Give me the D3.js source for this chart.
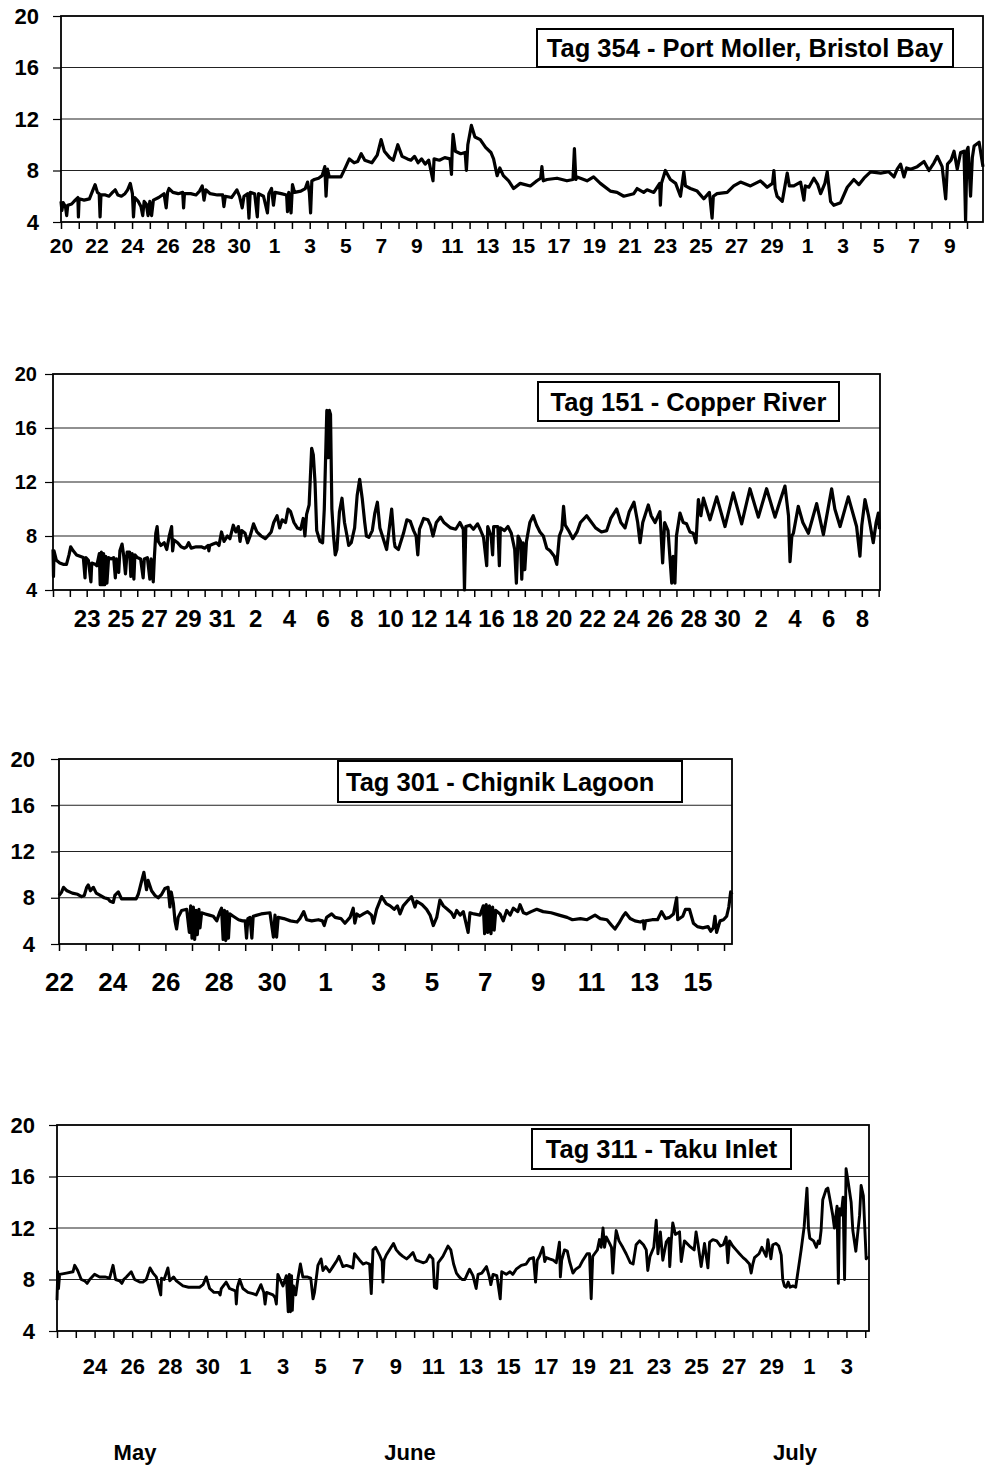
<!DOCTYPE html>
<html>
<head>
<meta charset="utf-8">
<script src="https://cdn.jsdelivr.net/npm/d3@7"></script>
<style>
  body { margin: 0; background: #fff; }
  svg text { font-family: "Liberation Sans", Arial, sans-serif; font-weight: bold; fill: #000; }
  .narrow { font-family: "Liberation Sans Narrow", "Liberation Sans", Arial, sans-serif; }
</style>
</head>
<body>
<svg id="chart" width="985" height="1468"></svg>
<script>
// values: [days since first tick, temperature]
const yTicks = [4, 8, 12, 16, 20];
const months = ["May", "June", "July"];
const titles = ["Tag 354 - Port Moller, Bristol Bay", "Tag 151 - Copper River",
                "Tag 301 - Chignik Lagoon", "Tag 311 - Taku Inlet"];
const startDates = ["2003-05-20", "2003-05-21", "2003-05-22", "2003-05-22"];
const endDays = [51.9, 49.08, 25.3, 43.2];
const firstLabel = [0, 2, 0, 2];

const tag354 = [[0.0,5.6],[0.05,4.9],[0.12,5.5],[0.25,5.2],[0.32,4.5],[0.38,5.3],[0.6,5.4],[0.8,5.7],[0.95,5.9],[0.98,4.4],[1.02,5.8],[1.3,5.7],[1.6,5.8],[1.8,6.5],[1.92,6.9],[2.05,6.3],[2.15,6.2],[2.2,4.4],[2.25,6.1],[2.5,6.1],[2.7,6.0],[2.9,6.3],[3.05,6.5],[3.2,6.1],[3.4,6.0],[3.6,6.2],[3.75,6.5],[3.9,7.0],[4.02,6.2],[4.08,4.4],[4.15,5.9],[4.35,5.6],[4.5,5.2],[4.6,4.5],[4.68,5.6],[4.8,5.4],[4.9,4.5],[5.0,5.6],[5.1,4.5],[5.2,5.7],[5.5,5.9],[5.8,6.2],[5.92,5.1],[6.0,6.3],[6.08,6.6],[6.3,6.3],[6.6,6.2],[6.85,6.3],[6.9,5.1],[6.95,6.2],[7.3,6.2],[7.6,6.1],[7.8,6.4],[7.95,6.8],[8.05,5.7],[8.15,6.5],[8.4,6.2],[8.8,6.1],[9.1,6.1],[9.17,5.2],[9.25,6.0],[9.6,5.9],[9.9,6.5],[10.05,6.0],[10.2,5.1],[10.3,6.0],[10.5,6.2],[10.58,4.3],[10.65,6.3],[10.9,6.2],[11.05,4.4],[11.12,6.2],[11.4,6.0],[11.62,4.7],[11.7,6.2],[11.85,6.6],[11.96,5.3],[12.05,6.3],[12.4,6.2],[12.7,6.1],[12.75,4.8],[12.82,6.3],[12.95,4.7],[13.03,6.9],[13.15,6.3],[13.5,6.4],[13.75,6.6],[13.88,7.1],[13.98,6.3],[14.05,4.7],[14.12,7.2],[14.26,7.3],[14.5,7.4],[14.7,7.6],[14.85,8.3],[14.92,6.0],[15.0,8.1],[15.1,7.5],[15.4,7.5],[15.76,7.5],[16.0,8.2],[16.23,8.9],[16.5,8.6],[16.7,8.7],[16.9,9.3],[17.1,8.8],[17.5,8.6],[17.8,9.2],[18.02,10.4],[18.2,9.5],[18.5,9.0],[18.7,8.8],[18.96,10.0],[19.2,9.1],[19.5,8.9],[19.7,8.8],[19.9,9.1],[20.1,8.6],[20.3,8.9],[20.5,8.5],[20.7,8.8],[20.94,7.2],[21.0,8.9],[21.3,8.8],[21.6,9.0],[21.9,8.9],[21.98,7.7],[22.02,9.5],[22.07,10.8],[22.2,9.5],[22.5,9.3],[22.75,9.4],[22.82,8.0],[22.9,10.0],[23.1,11.5],[23.3,10.6],[23.6,10.4],[23.9,9.8],[24.2,9.4],[24.35,8.9],[24.55,7.6],[24.7,8.2],[24.9,7.6],[25.2,7.2],[25.48,6.6],[25.85,7.0],[26.42,6.8],[26.79,7.2],[27.0,7.4],[27.07,8.3],[27.15,7.2],[27.36,7.3],[27.92,7.4],[28.48,7.2],[28.82,7.3],[28.9,9.7],[28.98,7.3],[29.05,7.5],[29.61,7.2],[29.98,7.5],[30.36,7.0],[30.92,6.4],[31.3,6.3],[31.68,6.0],[32.24,6.2],[32.43,6.6],[32.8,6.3],[32.99,6.5],[33.37,6.3],[33.7,7.0],[33.74,5.3],[33.8,7.0],[34.02,8.0],[34.3,7.3],[34.6,7.0],[34.87,6.0],[35.06,7.9],[35.15,6.8],[35.43,6.6],[35.81,6.4],[36.18,5.8],[36.5,6.3],[36.65,4.3],[36.72,6.0],[36.93,6.2],[37.5,6.3],[37.87,6.8],[38.25,7.1],[38.81,6.8],[39.37,7.2],[39.75,6.7],[40.05,7.0],[40.13,8.0],[40.2,6.6],[40.31,6.0],[40.6,5.6],[40.88,7.8],[41.0,6.8],[41.25,6.8],[41.63,7.1],[41.82,5.7],[41.9,6.8],[42.1,6.7],[42.38,7.4],[42.6,6.9],[42.76,6.2],[43.0,7.0],[43.13,7.9],[43.32,5.6],[43.5,5.3],[43.88,5.5],[44.26,6.7],[44.63,7.3],[44.91,6.9],[45.2,7.4],[45.57,7.9],[46.14,7.8],[46.6,7.9],[46.89,7.5],[47.07,8.1],[47.26,8.5],[47.45,7.5],[47.6,8.2],[47.83,8.1],[48.2,8.3],[48.58,8.7],[48.86,8.0],[49.14,8.6],[49.33,9.1],[49.6,8.3],[49.8,5.8],[49.9,8.5],[50.1,8.8],[50.27,9.5],[50.45,8.1],[50.64,9.4],[50.83,9.5],[50.92,4.1],[51.0,9.6],[51.06,9.8],[51.2,6.0],[51.3,9.0],[51.4,9.9],[51.68,10.2],[51.9,8.3]];

const tag151 = [[0.0,7.0],[0.03,5.0],[0.06,6.9],[0.2,6.2],[0.4,6.0],[0.6,5.9],[0.8,5.9],[0.95,6.6],[1.05,7.2],[1.2,6.9],[1.4,6.6],[1.6,6.5],[1.8,6.4],[1.9,4.9],[1.95,6.4],[2.1,6.2],[2.25,4.6],[2.3,6.0],[2.5,5.9],[2.6,5.8],[2.75,6.7],[2.8,4.4],[2.87,6.8],[2.93,4.4],[3.0,6.7],[3.07,4.4],[3.13,6.5],[3.2,4.5],[3.3,6.4],[3.45,6.3],[3.6,6.4],[3.7,4.9],[3.76,6.3],[3.9,5.3],[3.97,6.9],[4.1,7.4],[4.2,6.5],[4.3,5.2],[4.4,6.8],[4.55,6.8],[4.62,5.0],[4.7,6.7],[4.8,4.8],[4.86,6.6],[5.0,6.4],[5.2,6.3],[5.35,4.9],[5.42,6.3],[5.6,6.4],[5.75,4.8],[5.82,6.3],[5.95,4.6],[6.02,6.5],[6.1,8.2],[6.18,8.7],[6.25,7.6],[6.4,7.3],[6.6,7.5],[6.75,7.0],[6.9,8.0],[7.04,8.7],[7.1,6.9],[7.18,7.7],[7.4,7.5],[7.6,7.2],[7.8,7.1],[7.93,7.2],[8.05,7.5],[8.2,7.1],[8.5,7.2],[8.8,7.2],[9.0,7.1],[9.2,7.3],[9.25,6.9],[9.3,7.3],[9.5,7.4],[9.7,7.5],[9.85,7.3],[10.0,8.3],[10.15,7.6],[10.35,8.0],[10.5,7.8],[10.7,8.8],[10.85,8.3],[11.0,8.7],[11.1,7.6],[11.2,8.4],[11.4,8.2],[11.55,7.5],[11.7,8.0],[11.9,8.9],[12.1,8.3],[12.35,8.0],[12.6,7.8],[12.75,8.0],[12.95,8.3],[13.1,9.0],[13.3,9.5],[13.45,8.6],[13.6,9.2],[13.8,9.0],[13.95,10.0],[14.1,9.8],[14.3,9.0],[14.5,8.6],[14.7,8.5],[14.85,9.3],[14.95,8.0],[15.05,9.6],[15.2,10.3],[15.35,14.5],[15.45,14.0],[15.55,12.0],[15.65,8.4],[15.85,7.6],[16.0,7.5],[16.1,10.0],[16.25,17.3],[16.33,13.8],[16.4,17.3],[16.47,17.0],[16.55,10.0],[16.65,8.0],[16.75,6.6],[16.85,7.0],[17.0,9.8],[17.15,10.8],[17.3,9.0],[17.45,8.0],[17.55,7.3],[17.7,7.5],[17.9,8.6],[18.05,11.0],[18.2,12.2],[18.35,10.8],[18.5,9.0],[18.6,8.0],[18.75,7.9],[18.95,8.4],[19.1,9.7],[19.25,10.5],[19.4,8.6],[19.55,8.0],[19.8,7.0],[19.95,8.5],[20.1,10.0],[20.25,7.6],[20.3,7.2],[20.5,7.0],[20.8,8.2],[21.0,9.2],[21.2,9.1],[21.4,8.4],[21.55,8.0],[21.65,6.6],[21.75,8.5],[22.0,9.3],[22.25,9.2],[22.4,8.8],[22.55,8.0],[22.75,9.0],[23.0,9.4],[23.2,9.0],[23.4,8.8],[23.6,8.6],[23.9,8.5],[24.15,9.0],[24.35,8.5],[24.42,4.0],[24.5,8.7],[24.75,8.8],[24.95,8.5],[25.2,8.9],[25.35,8.5],[25.55,7.9],[25.74,5.8],[25.8,8.7],[26.0,8.0],[26.09,6.6],[26.15,8.7],[26.4,8.7],[26.49,5.8],[26.55,8.6],[26.8,8.4],[27.0,8.7],[27.2,8.2],[27.4,7.0],[27.5,4.5],[27.6,8.0],[27.75,7.6],[27.82,4.8],[27.9,7.5],[28.0,5.5],[28.1,7.6],[28.3,9.0],[28.5,9.5],[28.7,8.8],[28.9,8.3],[29.1,8.0],[29.3,7.1],[29.5,6.9],[29.75,6.5],[29.9,5.9],[30.05,8.0],[30.2,8.5],[30.3,10.2],[30.4,8.8],[30.6,8.4],[30.85,7.8],[31.1,8.3],[31.3,9.0],[31.67,9.5],[32.2,8.6],[32.55,8.3],[32.86,8.4],[33.1,9.3],[33.45,10.0],[33.7,9.0],[33.95,8.6],[34.2,9.8],[34.48,10.5],[34.7,9.0],[34.84,7.5],[35.0,9.0],[35.33,10.3],[35.5,9.5],[35.73,9.0],[36.02,9.8],[36.18,6.0],[36.3,9.0],[36.5,8.4],[36.72,4.5],[36.8,6.5],[36.91,4.5],[37.0,8.0],[37.21,9.7],[37.4,9.0],[37.6,8.9],[37.8,8.3],[38.0,8.2],[38.16,7.5],[38.3,10.7],[38.45,9.5],[38.6,10.8],[38.99,9.2],[39.39,10.9],[39.88,8.7],[40.37,11.2],[40.87,8.9],[41.36,11.5],[41.86,9.4],[42.35,11.5],[42.85,9.4],[43.2,10.8],[43.44,11.7],[43.65,9.5],[43.74,6.1],[43.85,8.0],[43.94,8.2],[44.23,10.2],[44.5,9.0],[44.83,8.2],[45.32,10.4],[45.72,8.1],[46.21,11.5],[46.4,10.0],[46.71,8.7],[47.2,10.9],[47.69,8.7],[47.89,6.5],[48.0,8.8],[48.19,10.7],[48.4,9.5],[48.68,7.5],[48.85,9.0],[48.98,9.7],[49.05,8.5]];

const tag301 = [[0.0,8.2],[0.1,8.5],[0.17,8.9],[0.3,8.6],[0.5,8.4],[0.7,8.3],[0.85,8.1],[0.95,8.2],[1.04,8.9],[1.1,9.1],[1.18,8.6],[1.29,8.9],[1.4,8.4],[1.55,8.2],[1.7,8.0],[1.85,7.9],[1.92,7.7],[2.04,7.6],[2.1,8.2],[2.23,8.5],[2.35,7.9],[2.5,7.9],[2.7,7.9],[2.9,7.9],[2.98,8.3],[3.1,9.4],[3.19,10.2],[3.29,8.7],[3.35,9.5],[3.48,8.6],[3.61,8.2],[3.73,8.0],[3.86,8.3],[3.98,8.8],[4.1,8.9],[4.17,7.2],[4.22,8.5],[4.3,7.5],[4.36,6.0],[4.42,5.3],[4.48,6.3],[4.61,6.9],[4.8,7.0],[4.9,5.0],[4.95,7.3],[5.0,4.5],[5.05,7.2],[5.1,4.4],[5.15,6.9],[5.2,4.8],[5.26,7.0],[5.3,5.4],[5.36,6.7],[5.5,6.6],[5.65,6.5],[5.8,6.4],[5.93,6.0],[6.05,6.8],[6.11,7.1],[6.17,4.4],[6.22,6.9],[6.27,4.3],[6.32,6.8],[6.37,4.5],[6.42,6.6],[6.55,6.4],[6.75,6.1],[6.9,6.0],[7.0,6.0],[7.05,4.5],[7.1,6.2],[7.18,6.3],[7.25,4.5],[7.3,6.4],[7.6,6.6],[7.93,6.7],[8.06,4.6],[8.12,6.5],[8.18,4.6],[8.24,6.3],[8.45,6.2],[8.7,6.0],[8.95,5.9],[9.06,6.2],[9.2,6.8],[9.31,6.1],[9.5,6.0],[9.75,6.1],[9.9,6.0],[9.97,5.6],[10.06,6.3],[10.25,6.6],[10.38,6.3],[10.6,6.2],[10.75,5.8],[10.94,6.3],[11.06,7.1],[11.12,5.8],[11.2,6.6],[11.3,6.4],[11.44,6.6],[11.6,6.8],[11.75,6.5],[11.82,5.8],[11.94,7.0],[12.13,8.1],[12.3,7.5],[12.45,7.3],[12.6,7.0],[12.72,7.3],[12.82,6.6],[12.94,7.3],[13.13,7.8],[13.25,8.1],[13.38,7.2],[13.45,7.7],[13.65,7.4],[13.82,7.0],[13.95,6.5],[14.07,5.6],[14.2,6.3],[14.32,7.8],[14.45,7.3],[14.6,7.0],[14.75,6.7],[14.85,6.3],[14.95,6.9],[15.08,6.5],[15.2,6.8],[15.38,5.0],[15.45,6.7],[15.6,6.6],[15.83,6.5],[15.95,7.3],[16.0,4.9],[16.06,7.4],[16.12,5.0],[16.18,7.3],[16.24,4.9],[16.3,7.2],[16.36,5.2],[16.42,6.9],[16.58,6.6],[16.7,6.0],[16.83,6.9],[16.96,6.5],[17.08,7.1],[17.25,6.8],[17.33,7.4],[17.46,6.7],[17.58,6.6],[17.75,6.8],[17.96,7.0],[18.2,6.8],[18.5,6.7],[18.8,6.5],[19.1,6.3],[19.3,6.1],[19.6,6.2],[19.85,6.1],[20.15,6.5],[20.35,6.2],[20.6,6.1],[20.78,5.6],[20.9,5.3],[21.05,5.8],[21.2,6.4],[21.3,6.7],[21.47,6.2],[21.65,6.0],[21.85,5.9],[21.97,6.0],[22.0,5.3],[22.05,6.0],[22.3,6.1],[22.5,6.1],[22.65,6.8],[22.8,6.2],[22.95,6.3],[23.1,6.6],[23.22,8.0],[23.26,6.1],[23.45,6.4],[23.55,7.0],[23.7,7.0],[23.85,5.8],[24.0,5.5],[24.2,5.4],[24.4,5.5],[24.5,5.1],[24.6,5.4],[24.66,6.4],[24.72,5.0],[24.85,6.0],[24.98,6.1],[25.1,6.4],[25.18,7.2],[25.25,8.5],[25.3,8.3]];

const tag311 = [[0.0,6.4],[0.04,8.6],[0.08,7.3],[0.14,8.4],[0.5,8.5],[0.85,8.6],[0.94,9.1],[1.1,8.7],[1.29,8.0],[1.47,7.9],[1.6,7.7],[1.74,8.0],[2.0,8.4],[2.27,8.2],[2.55,8.2],[2.8,8.1],[2.98,9.1],[3.12,8.0],[3.33,7.9],[3.45,7.7],[3.55,8.0],[3.69,8.2],[3.95,8.6],[4.13,8.0],[4.4,7.8],[4.57,7.8],[4.75,8.0],[4.95,8.9],[5.11,8.5],[5.28,8.2],[5.52,6.8],[5.56,8.1],[5.7,8.0],[5.9,8.9],[6.0,7.9],[6.2,8.2],[6.35,7.9],[6.7,7.5],[7.0,7.4],[7.3,7.4],[7.59,7.4],[7.77,7.6],[7.94,8.2],[8.12,7.3],[8.35,7.0],[8.6,7.0],[8.68,6.8],[8.74,7.3],[9.0,7.8],[9.18,7.3],[9.36,7.2],[9.5,7.1],[9.54,6.1],[9.6,7.4],[9.72,8.0],[9.89,7.3],[10.16,7.0],[10.42,6.9],[10.6,6.8],[10.85,7.6],[11.0,7.0],[11.07,6.1],[11.15,7.0],[11.49,6.8],[11.6,6.6],[11.67,6.1],[11.75,8.4],[12.02,7.5],[12.2,8.3],[12.3,5.5],[12.36,8.4],[12.42,5.5],[12.48,8.3],[12.52,5.6],[12.58,7.5],[12.7,6.8],[12.82,8.1],[12.95,9.2],[13.08,8.2],[13.3,8.2],[13.5,8.1],[13.62,6.5],[13.7,7.0],[13.88,9.1],[14.05,9.6],[14.15,8.7],[14.3,9.0],[14.5,8.6],[14.68,9.0],[14.9,9.5],[15.0,9.8],[15.21,9.0],[15.4,9.1],[15.6,9.0],[15.74,8.9],[15.83,10.0],[16.1,9.5],[16.28,9.2],[16.45,9.3],[16.63,9.2],[16.72,6.9],[16.81,10.3],[16.95,10.5],[17.16,9.9],[17.3,9.4],[17.34,7.8],[17.4,9.5],[17.52,9.9],[17.9,10.8],[18.05,10.3],[18.23,10.0],[18.4,9.8],[18.6,9.6],[18.75,9.8],[18.94,10.1],[19.1,9.5],[19.29,9.4],[19.5,9.3],[19.65,9.4],[19.82,9.9],[20.0,9.6],[20.08,7.4],[20.2,7.3],[20.28,9.3],[20.53,9.8],[20.8,10.6],[20.95,10.3],[21.1,9.2],[21.25,8.5],[21.4,8.2],[21.55,8.0],[21.7,8.0],[21.85,8.5],[21.95,8.8],[22.13,8.3],[22.3,7.3],[22.4,8.4],[22.6,8.5],[22.85,9.0],[23.0,8.2],[23.08,7.6],[23.2,8.4],[23.4,8.3],[23.58,6.5],[23.66,8.6],[23.9,8.4],[24.1,8.6],[24.25,8.4],[24.43,8.8],[24.7,9.1],[24.96,9.2],[25.14,9.6],[25.35,9.7],[25.46,7.8],[25.55,9.5],[25.67,9.8],[25.85,10.5],[25.95,9.4],[26.03,9.7],[26.2,9.6],[26.4,9.5],[26.56,9.3],[26.73,10.9],[26.78,8.2],[26.85,9.5],[27.0,10.3],[27.15,10.2],[27.27,9.4],[27.45,8.5],[27.6,8.8],[27.8,9.0],[27.98,9.5],[28.2,10.0],[28.33,10.0],[28.42,6.5],[28.5,9.8],[28.6,10.0],[28.75,10.3],[28.86,11.1],[28.95,10.5],[29.05,12.0],[29.13,10.5],[29.22,11.3],[29.4,10.8],[29.5,10.5],[29.57,8.5],[29.65,10.3],[29.75,11.8],[29.9,11.0],[30.1,10.5],[30.28,10.0],[30.5,9.3],[30.65,9.2],[30.81,10.7],[30.99,11.0],[31.2,10.7],[31.35,10.3],[31.43,8.7],[31.55,9.8],[31.75,10.5],[31.88,12.6],[31.97,10.0],[32.1,11.7],[32.23,9.5],[32.41,10.9],[32.55,11.2],[32.6,9.0],[32.68,11.0],[32.76,12.4],[32.9,11.5],[33.12,11.7],[33.21,9.4],[33.38,11.0],[33.65,10.6],[33.9,10.3],[34.0,11.7],[34.1,10.8],[34.27,9.0],[34.45,10.8],[34.63,8.9],[34.72,10.9],[34.89,11.1],[35.1,11.0],[35.3,10.6],[35.45,10.7],[35.6,11.3],[35.69,9.3],[35.78,11.0],[35.95,10.6],[36.13,10.3],[36.31,10.0],[36.5,9.7],[36.66,9.5],[36.84,9.2],[36.93,8.5],[37.02,9.2],[37.11,9.7],[37.35,10.0],[37.5,10.5],[37.73,9.8],[37.82,11.1],[37.98,9.6],[38.08,10.7],[38.26,10.8],[38.4,10.6],[38.53,9.9],[38.61,8.0],[38.7,7.5],[38.8,7.4],[38.9,7.8],[39.0,7.4],[39.15,7.5],[39.3,7.4],[39.41,8.5],[39.59,10.3],[39.75,12.1],[39.9,15.1],[39.98,12.0],[40.05,11.2],[40.25,11.0],[40.4,10.5],[40.5,11.0],[40.57,10.8],[40.65,11.8],[40.74,14.2],[40.92,15.0],[41.01,15.1],[41.15,14.0],[41.27,13.0],[41.36,12.0],[41.5,13.7],[41.57,7.7],[41.63,13.5],[41.72,13.0],[41.82,14.4],[41.9,8.0],[41.98,16.6],[42.1,15.5],[42.25,14.0],[42.34,11.8],[42.5,10.2],[42.7,13.0],[42.78,15.3],[42.9,14.5],[43.05,9.6],[43.14,9.8]];

const series = [tag354, tag151, tag301, tag311];

// page layout of the four stacked panels
const layout = [
  {left: 61, right: 983, top: 16, bottom: 222, xFont: 21, yFont: 22, xPad: 9, yPad: 14, lw: 3.2,
   box: {x: 537, y: 29, w: 416, h: 38}, anchor: "middle"},
  {left: 53, right: 880, top: 374, bottom: 590, xFont: 24, yFont: 20, xPad: 13, yPad: 8, lw: 3.2,
   box: {x: 538, y: 382, w: 301, h: 39}, anchor: "middle"},
  {left: 59, right: 732, top: 759, bottom: 944, xFont: 24, yFont: 22, xPad: 22, yPad: 16, lw: 3.2,
   box: {x: 338, y: 761, w: 344, h: 41}, anchor: "start"},
  {left: 57, right: 869, top: 1125, bottom: 1331, xFont: 22, yFont: 22, xPad: 20, yPad: 14, lw: 2.9,
   box: {x: 532, y: 1129, w: 259, h: 40}, anchor: "middle"}
];

const parse = d3.timeParse("%Y-%m-%d");
const dayMs = 864e5;
const svg = d3.select("#chart");

layout.forEach((p, i) => {
  const start = parse(startDates[i]);
  const end = new Date(+start + endDays[i] * dayMs);

  const x = d3.scaleTime().domain([start, end]).range([p.left, p.right]);
  const y = d3.scaleLinear().domain([4, 20]).range([p.bottom, p.top]);

  const g = svg.append("g");

  // horizontal grid
  g.append("g")
    .selectAll("line")
    .data(yTicks.slice(1, -1))
    .join("line")
    .attr("x1", p.left).attr("x2", p.right)
    .attr("y1", d => y(d)).attr("y2", d => y(d))
    .attr("stroke", "#222").attr("stroke-width", 1.1);

  // day ticks, every second one labelled
  const days = d3.timeDay.range(start, end);
  const fmt = d3.timeFormat("%-d");
  const xAxis = g.append("g")
    .attr("transform", `translate(0,${p.bottom})`)
    .call(d3.axisBottom(x)
      .tickValues(days)
      .tickSize(7)
      .tickPadding(p.xPad)
      .tickFormat((d, k) => (k >= firstLabel[i] && k % 2 === 0) ? fmt(d) : ""));
  xAxis.select(".domain").remove();
  xAxis.selectAll("line").attr("stroke", "#000").attr("stroke-width", 1.5);
  xAxis.selectAll("text").attr("font-size", p.xFont);
  if (i === 2) xAxis.selectAll("text").classed("narrow", true).attr("font-size", p.xFont + 2);

  const yAxis = g.append("g")
    .attr("transform", `translate(${p.left},0)`)
    .call(d3.axisLeft(y).tickValues(yTicks).tickSize(8).tickPadding(p.yPad));
  yAxis.select(".domain").remove();
  yAxis.selectAll("line").attr("stroke", "#000").attr("stroke-width", 1.2);
  yAxis.selectAll("text").attr("font-size", p.yFont);

  // plot frame
  g.append("rect")
    .attr("x", p.left).attr("y", p.top)
    .attr("width", p.right - p.left).attr("height", p.bottom - p.top)
    .attr("fill", "none").attr("stroke", "#000").attr("stroke-width", 1.8);

  // temperature trace
  const line = d3.line()
    .x(d => x(new Date(+start + d[0] * dayMs)))
    .y(d => y(d[1]));
  g.append("path")
    .datum(series[i])
    .attr("d", line)
    .attr("fill", "none")
    .attr("stroke", "#000")
    .attr("stroke-width", p.lw)
    .attr("stroke-linejoin", "round");

  // title box
  g.append("rect")
    .attr("x", p.box.x).attr("y", p.box.y)
    .attr("width", p.box.w).attr("height", p.box.h)
    .attr("fill", "#fff").attr("stroke", "#000").attr("stroke-width", 2);
  g.append("text")
    .attr("x", p.anchor === "middle" ? p.box.x + p.box.w / 2 : p.box.x + 8)
    .attr("y", p.box.y + p.box.h / 2)
    .attr("dy", "0.36em")
    .attr("text-anchor", p.anchor)
    .attr("font-size", 25.5)
    .text(titles[i]);
});

// month captions under the last panel
const monthX = d3.scalePoint().domain(months).range([135, 795]);
svg.append("g")
  .selectAll("text")
  .data(months)
  .join("text")
  .attr("class", "narrow")
  .attr("x", d => d === "June" ? 410 : monthX(d))
  .attr("y", 1460)
  .attr("text-anchor", "middle")
  .attr("font-size", 22)
  .text(d => d);
</script>
</body>
</html>
